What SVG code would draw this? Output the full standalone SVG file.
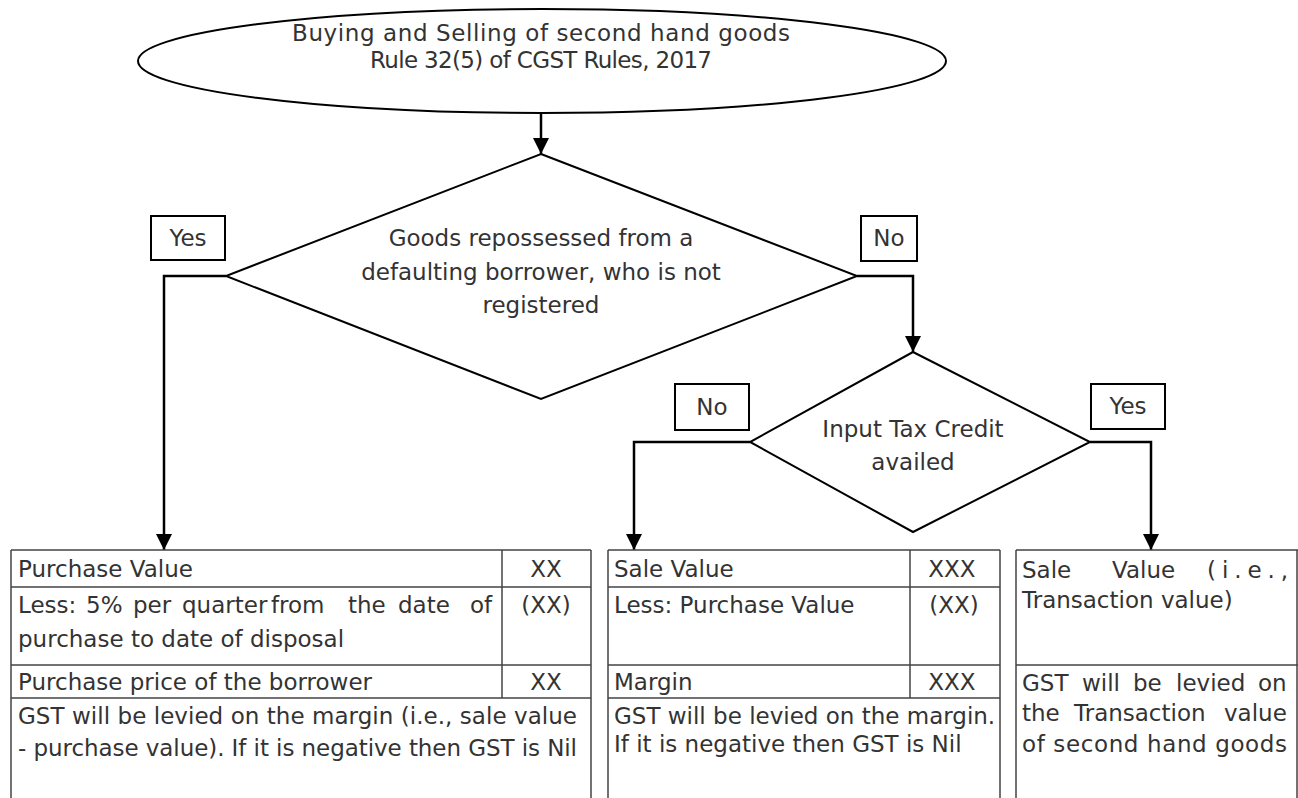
<svg xmlns="http://www.w3.org/2000/svg" width="1298" height="798" viewBox="0 0 1298 798">
<defs>
<style>
.t{font-family:"DejaVu Sans","Liberation Sans",sans-serif;font-size:23px;fill:#333;}
.c{text-anchor:middle;}
.s{fill:#fff;stroke:#000;stroke-width:2;}
.ln{fill:none;stroke:#000;stroke-width:2.5;}
.tb{fill:none;stroke:#444;stroke-width:1.5;}
</style>
<marker id="ah" viewBox="0 0 10 10" refX="10" refY="5" markerWidth="6.5" markerHeight="6.5" markerUnits="strokeWidth" orient="auto">
<path d="M0,0 L10,5 L0,10 Z" fill="#000"/>
</marker>
</defs>
<rect width="1298" height="798" fill="#fff"/>

<g id="connectors">
<path class="ln" d="M541,113 V154" marker-end="url(#ah)"/>
<path class="ln" d="M226,276 H164 V550" marker-end="url(#ah)"/>
<path class="ln" d="M857,276 H913 V352" marker-end="url(#ah)"/>
<path class="ln" d="M750,442 H634 V550" marker-end="url(#ah)"/>
<path class="ln" d="M1090,442 H1151 V550" marker-end="url(#ah)"/>
</g>

<g id="start">
<ellipse class="s" cx="542" cy="61" rx="404" ry="52"/>
<text class="t c" x="541" y="41" textLength="498" lengthAdjust="spacing">Buying and Selling of second hand goods</text>
<text class="t c" x="541" y="68" textLength="342" lengthAdjust="spacing">Rule 32(5) of CGST Rules, 2017</text>
</g>

<g id="decision1">
<polygon class="s" points="541,154 857,276 541,399 226,276"/>
<text class="t c" x="541" y="246">Goods repossessed from a</text>
<text class="t c" x="541" y="280">defaulting borrower, who is not</text>
<text class="t c" x="541" y="313">registered</text>
</g>

<g id="label-yes1">
<rect class="s" x="151" y="216" width="74" height="44"/>
<text class="t c" x="188" y="246">Yes</text>
</g>
<g id="label-no1">
<rect class="s" x="861" y="216" width="56" height="45"/>
<text class="t c" x="889" y="246">No</text>
</g>

<g id="decision2">
<polygon class="s" points="913,352 1090,442 913,532 750,442"/>
<text class="t c" x="913" y="437">Input Tax Credit</text>
<text class="t c" x="913" y="470">availed</text>
</g>

<g id="label-no2">
<rect class="s" x="675" y="384" width="74" height="46"/>
<text class="t c" x="712" y="415">No</text>
</g>
<g id="label-yes2">
<rect class="s" x="1091" y="384" width="74" height="45"/>
<text class="t c" x="1128" y="414">Yes</text>
</g>

<g id="table1">
<path class="tb" d="M11,550 H591 M11,587 H591 M11,665 H591 M11,698 H591 M11,550 V798 M591,550 V798 M502,550 V698"/>
<text class="t" x="18" y="577">Purchase Value</text>
<text class="t c" x="546" y="577">XX</text>
<text class="t" y="613"><tspan x="18">Less:</tspan><tspan x="86">5%</tspan><tspan x="133">per</tspan><tspan x="182">quarter</tspan><tspan x="271">from</tspan><tspan x="348">the</tspan><tspan x="398">date</tspan><tspan x="470">of</tspan></text>
<text class="t c" x="546" y="613">(XX)</text>
<text class="t" x="18" y="647">purchase to date of disposal</text>
<text class="t" x="18" y="690">Purchase price of the borrower</text>
<text class="t c" x="546" y="690">XX</text>
<text class="t" x="18" y="724" textLength="559" lengthAdjust="spacing">GST will be levied on the margin (i.e., sale value</text>
<text class="t" x="18" y="756" textLength="559" lengthAdjust="spacing">- purchase value). If it is negative then GST is Nil</text>
</g>

<g id="table2">
<path class="tb" d="M608,550 H1000 M608,587 H1000 M608,665 H1000 M608,698 H1000 M608,550 V798 M1000,550 V798 M910,550 V698"/>
<text class="t" x="614" y="577">Sale Value</text>
<text class="t c" x="952" y="577">XXX</text>
<text class="t" x="614" y="613">Less: Purchase Value</text>
<text class="t c" x="954" y="613">(XX)</text>
<text class="t" x="614" y="690">Margin</text>
<text class="t c" x="952" y="690">XXX</text>
<text class="t" x="614" y="724">GST will be levied on the margin.</text>
<text class="t" x="614" y="752">If it is negative then GST is Nil</text>
</g>

<g id="table3">
<path class="tb" d="M1016,550 H1298 M1016,665 H1298 M1016,550 V798 M1297,550 V798"/>
<text class="t" y="578"><tspan x="1022">Sale</tspan><tspan x="1112">Value</tspan><tspan x="1207" textLength="81" lengthAdjust="spacing">(i.e.,</tspan></text>
<text class="t" x="1022" y="608">Transaction value)</text>
<text class="t" y="691"><tspan x="1022">GST</tspan><tspan x="1082">will</tspan><tspan x="1133">be</tspan><tspan x="1176">levied</tspan><tspan x="1258">on</tspan></text>
<text class="t" y="721"><tspan x="1022">the</tspan><tspan x="1074">Transaction</tspan><tspan x="1224">value</tspan></text>
<text class="t" x="1022" y="752" textLength="265" lengthAdjust="spacing">of second hand goods</text>
</g>
</svg>
